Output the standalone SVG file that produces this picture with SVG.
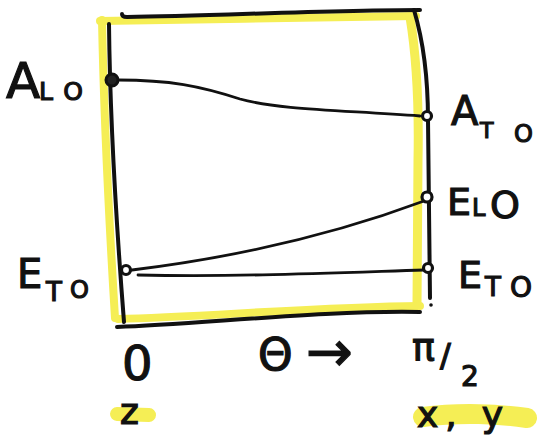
<svg xmlns="http://www.w3.org/2000/svg" width="545" height="440" viewBox="0 0 545 440">
<style>
.hl{fill:none;stroke:#f5ee55;stroke-linecap:round;stroke-linejoin:round}
.ink{fill:none;stroke:#111;stroke-linecap:round;stroke-linejoin:round}
.frame{stroke-width:4}
.conn{stroke-width:2.8}
.t{font-family:"DejaVu Sans","Liberation Sans",sans-serif;fill:#111;stroke:#111;stroke-width:1.2}
.pt{fill:#fff;stroke:#111;stroke-width:3.2}
.ptf{fill:#222;stroke:#111;stroke-width:3}
</style>
<rect width="545" height="440" fill="#fff"/>
<g id="highlights">
  <path class="hl" stroke-width="8" d="M102,20 C104,120 109,220 115,318"/>
  <path class="hl" stroke-width="8" d="M100,21 C200,20 320,17 416,16"/>
  <path class="hl" stroke-width="9" d="M410,17 C417,60 419,110 418,160 L417,305"/>
  <path class="hl" stroke-width="8" d="M118,319 C200,317 320,307 420,306"/>
  <path class="hl" stroke-width="14" d="M117,414 L149,415"/>
  <path class="hl" stroke-width="20" d="M423,417 C460,412 500,414 527,418"/>
</g>
<g id="frame">
  <path class="ink frame" d="M109,24 C110,120 116,220 124,322"/>
  <path class="ink frame" d="M122,14 Q122,17 127,17 C210,16 330,10 420,10"/>
  <path class="ink frame" d="M414,10 C423,40 428,80 428,120 L430,298"/>
  <circle cx="431" cy="305" r="1.8" fill="#111"/>
  <path class="ink frame" d="M117,327 C200,324 330,310 420,312"/>
</g>
<g id="connectors">
  <path class="ink conn" d="M118,80 C170,80 200,86 240,99 C280,110 340,110 420,116"/>
  <path class="ink conn" d="M132,270 C230,258 330,236 424,201"/>
  <path class="ink conn" d="M138,275 C240,277 330,273 424,270"/>
</g>
<g id="node-a-lo">
  <circle class="ptf" cx="112" cy="80" r="6"/>
  <text class="t" x="6" y="98" font-size="50">A<tspan x="39" y="100" font-size="25" textLength="44" lengthAdjust="spacing">LO</tspan></text>
</g>
<g id="node-a-to">
  <circle class="pt" cx="427" cy="116" r="4.5"/>
  <text class="t" x="451" y="125" font-size="40">A<tspan x="480" y="138" font-size="22">T</tspan><tspan x="514" y="142" font-size="24">O</tspan></text>
</g>
<g id="node-e-lo">
  <circle class="pt" cx="427" cy="197" r="5"/>
  <text class="t" x="447" y="215" font-size="38">E<tspan x="472" y="216" font-size="24">L</tspan><tspan x="490" y="218" font-size="38">O</tspan></text>
</g>
<g id="node-e-to-left">
  <circle class="pt" cx="126" cy="270" r="4.5"/>
  <text class="t" x="17" y="288" font-size="40">E<tspan x="46" y="301" font-size="26">T</tspan><tspan x="70" y="298" font-size="24">O</tspan></text>
</g>
<g id="node-e-to-right">
  <circle class="pt" cx="428" cy="268" r="4.5"/>
  <text class="t" x="458" y="288" font-size="38">E<tspan x="485" y="296" font-size="26">T</tspan><tspan x="510" y="297" font-size="28">O</tspan></text>
</g>
<g id="axis-labels">
  <text class="t" x="122" y="380" font-size="48">0</text>
  <text class="t" x="258" y="370" font-size="44">Θ<tspan x="306" y="371" font-size="56">→</tspan></text>
  <text class="t" x="412" y="360" font-size="38">π<tspan x="440" y="366" font-size="32">/</tspan><tspan x="461" y="386" font-size="28">2</tspan></text>
  <text class="t" x="120" y="424" font-size="36">z</text>
  <text class="t" x="417" y="427" font-size="36" textLength="86" lengthAdjust="spacing">x, y</text>
</g>
</svg>
